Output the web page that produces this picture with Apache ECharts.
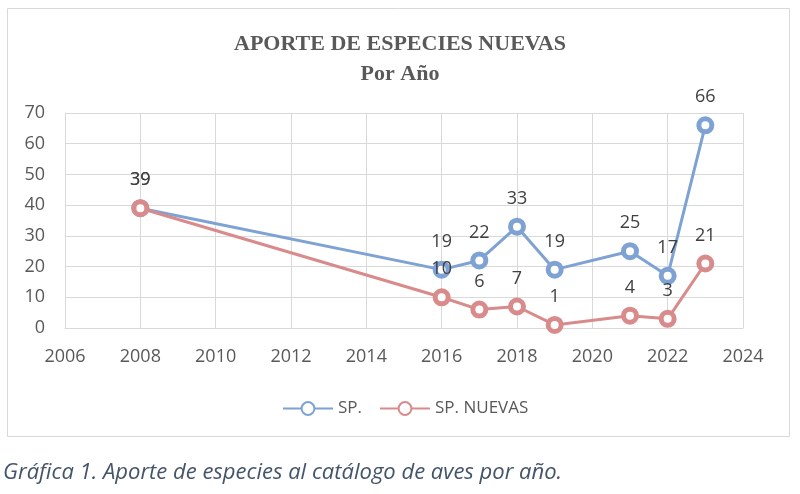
<!DOCTYPE html>
<html lang="es">
<head>
    <meta charset="UTF-8">
    <title>Aporte de especies nuevas</title>
    <script src="https://cdn.jsdelivr.net/npm/echarts/dist/echarts.min.js"></script>
    <style>
        html, body { margin: 0; padding: 0; background: #fff; }
        #main { width: 800px; height: 494px; }
    </style>
</head>
<body>
    <div id="main"></div>
    <script>
        // datos
        var years = [2008, 2016, 2017, 2018, 2019, 2021, 2022, 2023];
        var spTotal = [39, 19, 22, 33, 19, 25, 17, 66];
        var spNuevas = [39, 10, 6, 7, 1, 4, 3, 21];
        var seriesNames = ['SP.', 'SP. NUEVAS'];
        var seriesColors = ['#7ea2d3', '#d98a8a'];

        var chart = echarts.init(document.getElementById('main'));
        var labelColor = '#404040';
        var axisColor = '#595959';

        function pairs(values) {
            return years.map(function (y, i) { return [y, values[i]]; });
        }

        function makeSeries(name, values, color) {
            return {
                name: name,
                type: 'line',
                data: pairs(values),
                symbol: 'circle',
                symbolSize: 13,
                showAllSymbol: true,
                lineStyle: { color: color, width: 3 },
                itemStyle: { color: '#fff', borderColor: color, borderWidth: 5 },
                label: {
                    show: true,
                    position: 'top',
                    distance: 10,
                    color: labelColor,
                    fontFamily: 'Open Sans',
                    fontSize: 18,
                    formatter: function (p) { return p.value[1]; }
                },
                emphasis: { disabled: true },
                animation: false
            };
        }

        var option = {
            animation: false,
            title: {
                text: 'APORTE DE ESPECIES NUEVAS\nPor Año',
                left: 'center',
                top: 24,
                textStyle: {
                    fontFamily: 'Liberation Serif',
                    fontWeight: 'bold',
                    fontSize: 22,
                    color: '#595959',
                    lineHeight: 30
                }
            },
            legend: {
                left: 277,
                top: 395,
                itemWidth: 50,
                itemHeight: 16,
                itemGap: 17,
                textStyle: { fontFamily: 'Open Sans', fontSize: 17, color: axisColor },
                data: seriesNames
            },
            grid: { left: 65, right: 57, top: 113, bottom: 166 },
            xAxis: {
                type: 'value',
                min: 2006,
                max: 2024,
                interval: 2,
                axisLine: { show: true, lineStyle: { color: '#d9d9d9' } },
                axisTick: { show: false },
                splitLine: { show: true, lineStyle: { color: '#d9d9d9' } },
                axisLabel: {
                    color: axisColor, fontFamily: 'Open Sans', fontSize: 18, margin: 20,
                    formatter: function (v) { return String(v); }
                }
            },
            yAxis: {
                type: 'value',
                min: 0,
                max: 70,
                interval: 10,
                axisLine: { show: true, lineStyle: { color: '#d9d9d9' } },
                axisTick: { show: false },
                splitLine: { lineStyle: { color: '#d9d9d9' } },
                axisLabel: { color: axisColor, fontFamily: 'Open Sans', fontSize: 18, margin: 20 }
            },
            graphic: [
                {
                    type: 'rect',
                    shape: { x: 7.5, y: 8.5, width: 782, height: 428 },
                    style: { fill: 'none', stroke: '#d9d9d9', lineWidth: 1 },
                    silent: true
                },
                {
                    type: 'text',
                    left: 3,
                    top: 462,
                    style: {
                        text: 'Gráfica 1. Aporte de especies al catálogo de aves por año.',
                        font: 'italic 22px "Open Sans"',
                        fill: '#44546a'
                    },
                    silent: true
                }
            ],
            series: [
                makeSeries(seriesNames[0], spTotal, seriesColors[0]),
                makeSeries(seriesNames[1], spNuevas, seriesColors[1])
            ]
        };

        chart.setOption(option);
    </script>
</body>
</html>
